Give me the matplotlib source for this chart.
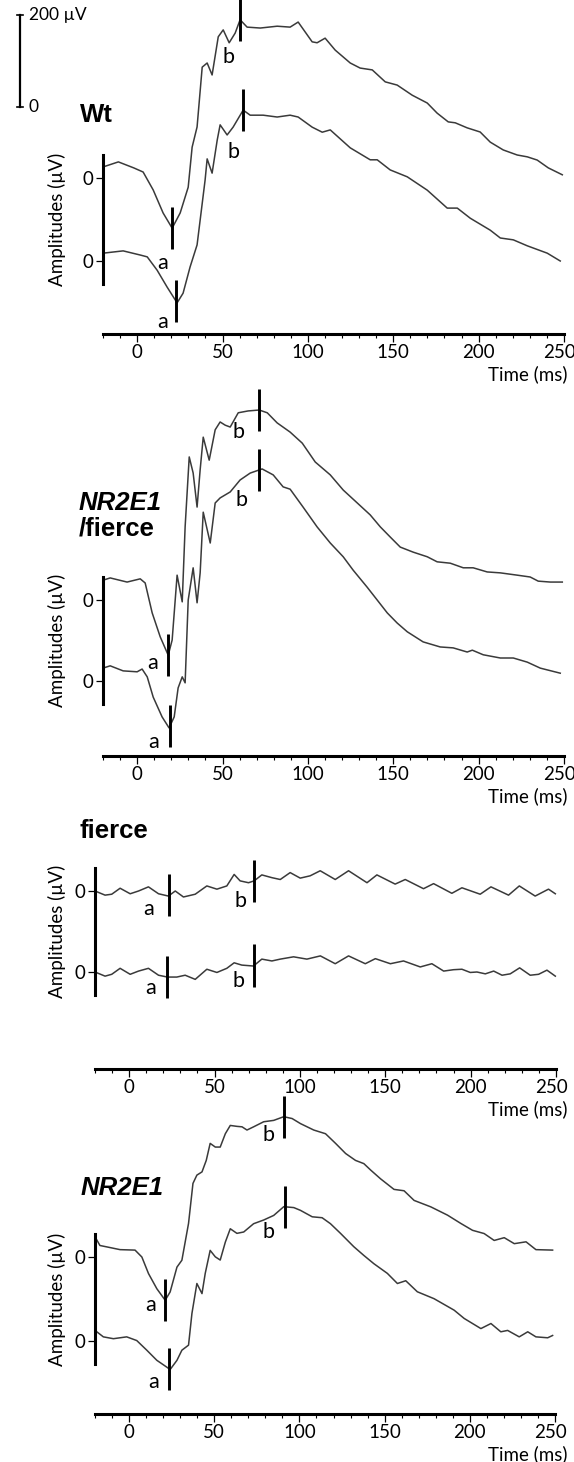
import numpy as np
import matplotlib.pyplot as plt
from matplotlib.ticker import MultipleLocator
from matplotlib.transforms import ScaledTranslation

# ERG traces, time in ms, amplitude in uV relative to each trace's own zero
# Wt
wt_up_t = [-20, -11, -2, 3.5, 9.4, 15.2, 20.5, 25.2, 29.9, 32.2, 35.1, 38.1, 41, 43.9, 47.5,
           50.4, 53.9, 57.4, 60.3, 64.4, 72.1, 82, 89.6, 94.3, 102.5, 105.4, 110.1, 116, 124.8, 130.6,
           137.7, 145.3, 152.3, 161.1, 169.9, 175.7, 182.2, 186.3, 193.3, 200.9, 206.8, 214.4, 222.6,
           228.5, 234.3, 240.8, 249]
wt_up_v = [24, 35, 22, 13, -26, -76, -109, -76, -20, 67, 111, 241, 250, 224, 307,
           322, 294, 315, 344, 328, 326, 330, 328, 339, 296, 294, 304, 278, 250, 239,
           235, 209, 202, 180, 163, 141, 122, 120, 109, 100, 78, 61, 50,
           46, 39, 22, 7]
wt_lo_t = [-20, -8.2, 1.8, 5.9, 11.7, 17.6, 23.4, 26.9, 31, 35.1, 36.9, 39.8, 41, 43.9, 46.9,
           48.6, 52.7, 56.2, 62.1, 66.2, 73.8, 82, 89.6, 94.3, 102.5, 108.4, 113.1, 124.8, 136.5,
           140.6, 148.2, 158.2, 169.9, 181.6, 187.5, 195.1, 206.8, 212.7, 220.3, 228.5, 240.2, 247.8]
wt_lo_v = [17, 22, 13, 9, -20, -57, -91, -70, -13, 35, 89, 176, 222, 191, 263,
           296, 274, 291, 328, 317, 317, 313, 317, 313, 291, 280, 285, 246, 220,
           220, 198, 183, 154, 115, 115, 93, 67, 50, 46, 33, 17, 0]

# NR2E1/fierce
nf_up_t = [-20, -15.8, -5.9, 1.8, 4.7, 8.8, 13.5, 18.2, 20.5, 23.4, 26.4, 28.1, 30.5, 32.8, 35.1,
           36.9, 38.7, 42.2, 45.7, 48.6, 51.6, 54.5, 59.2, 65, 71.5, 76.2, 82, 89.6, 96.7, 104.3,
           113.1, 120.7, 128.9, 136.5, 142.4, 148.2, 154.1, 161.7, 169.9, 175.7, 183.4, 191, 196.8,
           205, 212.7, 222.6, 230.2, 234.9, 242, 249]
nf_up_v = [43, 48, 39, 46, 37, -28, -80, -120, -87, 54, -4, 159, 311, 276, 202,
           283, 354, 304, 370, 387, 380, 376, 407, 411, 413, 407, 385, 365, 341, 300,
           272, 239, 211, 185, 159, 137, 115, 104, 94, 83, 80, 70, 70,
           61, 59, 54, 50, 41, 39, 39]
nf_lo_t = [-20, -15.8, -8.2, 0, 2.9, 5.9, 9.4, 14.6, 18.7, 21.7, 24, 26.4, 28.1, 29.9, 32.8,
           35.1, 36.9, 38.7, 42.8, 45.7, 48.6, 54.5, 60.3, 66.2, 73.2, 79.7, 85.5, 89.6, 97.2, 105.4,
           113.1, 120.7, 126.5, 134.7, 140.6, 146.5, 152.3, 158.2, 167.5, 177.5, 185.1, 193.3, 196.3,
           202.7, 212.7, 220.3, 228.5, 236.1, 247.8]
nf_lo_v = [28, 33, 22, 20, 26, 9, -35, -78, -102, -78, -15, 9, -4, 176, 246,
           170, 235, 367, 300, 387, 398, 411, 437, 452, 461, 448, 422, 417, 378, 335,
           300, 270, 241, 204, 176, 148, 126, 107, 85, 74, 72, 63, 67,
           57, 50, 50, 41, 28, 17]

# fierce
fi_up_t = [-20, -14.1, -10.2, -5.3, 0.6, 5.5, 11.3, 17.2, 23, 27, 31.8, 38.7, 45.5, 51.4, 57.2,
           61.5, 65, 69.9, 73.2, 77.7, 83.6, 88.5, 94.3, 100.2, 106, 111.9, 120.7, 128.5, 139.3,
           145.1, 155.8, 161.7, 172.4, 178.3, 189, 194.9, 205.6, 211.9, 222.2, 228.5, 237.8, 245.6,
           249.6]
fi_up_v = [0, -9, -7, 6, -6, 0, 9, -6, -11, 0, -13, -7, 11, 4, 11,
           36, 22, 18, 22, 35, 29, 25, 40, 28, 33, 44, 25, 44, 18,
           35, 15, 25, 5, 16, -5, 7, -7, 9, -9, 11, -11, 4,
           -6]
fi_lo_t = [-20, -14.1, -10.2, -5.3, 0.6, 5.5, 11.3, 17.2, 22.4, 27.9, 32.8, 38.7, 45.5, 51.4, 57.2,
           61.5, 66, 72.8, 77.7, 83.6, 88.5, 96.3, 104.1, 112, 120.7, 128.5, 138.3, 144.2, 153,
           160.7, 170.5, 177.3, 184.2, 190, 194.9, 199.8, 203.7, 208.6, 213.5, 218.4, 223.2, 228.7,
           234.9, 239.8, 244.7, 249.6]
fi_lo_v = [0, -9, -5, 8, -5, 2, 8, -7, -11, -11, -7, -16, 6, -1, 8,
           20, 15, 13, 28, 24, 28, 33, 28, 35, 18, 35, 18, 29, 18,
           24, 11, 18, 2, 5, 6, -1, 0, -4, 2, -7, -4, 9,
           -7, -5, 4, -9]

# NR2E1
nr_up_t = [-20, -17.1, -13.1, -5.3, 3.5, 7.5, 11.4, 16.3, 21.2, 24.1, 28.1, 31, 34.9, 37.5, 39.8,
           42.8, 45.3, 47.6, 50.6, 53.5, 56.5, 59.4, 63.3, 66.3, 69.2, 73.1, 79, 84.9, 90.8, 95.7,
           100.6, 108.4, 115.3, 121.2, 127.1, 132.9, 137.8, 141.8, 147.6, 155.5, 161.4, 167.3, 177.1,
           186.9, 194.7, 201.6, 208.4, 214.3, 220.2, 226.1, 233, 238.8, 248.6]
nr_up_v = [44, 25, 22, 16, 15, 0, -36, -69, -94, -76, -22, -7, 73, 160, 178,
           185, 210, 247, 239, 239, 268, 286, 284, 283, 276, 283, 294, 297, 305, 301,
           290, 276, 268, 247, 225, 210, 203, 189, 170, 147, 144, 123, 109,
           91, 73, 58, 51, 36, 42, 29, 33, 16, 15]
nr_lo_t = [-20, -15.1, -9.2, -1.4, 4.5, 10.4, 16.3, 22.2, 24.1, 28.1, 31, 34.9, 36.9, 39.8, 42.8,
           44.7, 47.6, 50.6, 53.5, 56.5, 59.4, 63.3, 67.3, 73.1, 79, 84.9, 90.8, 96.7, 100.6, 107.5,
           113.3, 118.2, 124.1, 131.9, 137.8, 143.7, 151.6, 157.5, 162.4, 169.2, 179, 190.8, 196.7,
           206.5, 212.4, 218.2, 222.2, 229, 234, 238.8, 245.7, 248.6]
nr_lo_v = [23, 9, 5, 9, 1, -20, -42, -57, -62, -42, -20, -9, 60, 125, 103,
           147, 197, 183, 176, 215, 244, 234, 237, 255, 263, 273, 292, 290, 284, 270,
           268, 255, 234, 205, 186, 168, 147, 125, 131, 107, 92, 67, 49,
           27, 38, 20, 23, 9, 20, 9, 7, 12]

# a- and b-wave marker times (ms): upper a, upper b, lower a, lower b
wt_marks = [20.5, 60.3, 22.8, 62.1]
nf_marks = [18.2, 71.5, 19.3, 71.5]
fi_marks = [23.6, 73.2, 22.4, 73.2]
nr_marks = [21.2, 91.2, 23.5, 91.8]

x_ticks = [0, 50, 100, 150, 200, 250]

W, H = 574, 1462
UV_PX = 92 / 200  # pixels per uV, from the 200 uV scale bar
TRACE = "#3a3a3a"

plt.rcParams["font.family"] = ["Lato", "DejaVu Sans"]
fig = plt.figure(figsize=(W / 100, H / 100), dpi=100)

# x of -20 ms, x of 250 ms, top, upper zero, lower zero, x-axis line  (pixels)
layout = [
    (103, 564, 0, 178, 261, 334),
    (103, 564, 385, 600, 681, 756),
    (95, 556, 800, 891, 972, 1069),
    (95, 555, 1090, 1257, 1341, 1414),
]

# "a"/"b" label positions (ms, uV above the lower trace's zero)
label_pos = [
    [(15.2, -4), (53.3, 443), (15.2, -133), (56.2, 237)],
    [(8.8, 39), (59.2, 541), (9.4, -133), (60.9, 394)],
    [(11.3, 136), (65, 154), (12.3, -34), (64, -20)],
    [(12.4, 78), (82, 447), (14.3, -89), (82, 237)],
]


def draw_panel(lay, up, lo, marks, labels):
    x0, x1, top, z_up, z_lo, axis_y = lay
    ax = fig.add_axes([x0 / W, 1 - axis_y / H, (x1 - x0) / W, (axis_y - top) / H])
    ax.patch.set_visible(False)
    ax.set_xlim(-20, 250)
    ax.set_ylim(-(axis_y - z_lo) / UV_PX, (z_lo - top) / UV_PX)
    off = (z_lo - z_up) / UV_PX

    for (tt, vv), base, (ta, tb) in [(up, off, marks[:2]), (lo, 0, marks[2:])]:
        ax.plot(tt, np.array(vv) + base, color=TRACE, lw=1.1, clip_on=False)
        for tm in (ta, tb):
            vm = np.interp(tm, tt, vv) + base
            ax.plot([tm, tm], [vm - 46, vm + 46], color="k", lw=2.1,
                    solid_capstyle="butt", clip_on=False)
    for (tx, ty), s in zip(labels, "abab"):
        ax.text(tx, ty, s, ha="center", va="center", fontsize=15.5)

    for s in ("top", "right"):
        ax.spines[s].set_visible(False)
    ax.spines["bottom"].set_linewidth(2.2)
    ax.spines["left"].set_linewidth(2.2)
    ax.spines["left"].set_bounds(-50, off + 50)
    ax.set_xticks(x_ticks)
    ax.xaxis.set_minor_locator(MultipleLocator(10))
    ax.tick_params(axis="x", which="major", length=5.5, width=0.9, labelsize=13.5, pad=1.5)
    ax.tick_params(axis="x", which="minor", length=3.2, width=0.8)
    ax.set_yticks([0, off])
    ax.set_yticklabels(["0", "0"])
    ax.tick_params(axis="y", length=5, width=0.9, labelsize=13.5, pad=2)
    # keep the last tick label inside the figure
    last = ax.get_xticklabels()[-1]
    last.set_transform(last.get_transform() + ScaledTranslation(-5 / 100, 0, fig.dpi_scale_trans))

    fig.text(567 / W, 1 - (axis_y + 40) / H, "Time (ms)", ha="right", va="center",
             fontsize=13.5)
    mid = (z_up + z_lo) / 2
    fig.text(57 / W, 1 - mid / H, "Amplitudes (µV)", rotation=90, ha="center",
             va="center", fontsize=13.5)
    return ax


traces = [
    ((wt_up_t, wt_up_v), (wt_lo_t, wt_lo_v), wt_marks),
    ((nf_up_t, nf_up_v), (nf_lo_t, nf_lo_v), nf_marks),
    ((fi_up_t, fi_up_v), (fi_lo_t, fi_lo_v), fi_marks),
    ((nr_up_t, nr_up_v), (nr_lo_t, nr_lo_v), nr_marks),
]
axes = [draw_panel(lay, up, lo, mk, lb)
        for lay, (up, lo, mk), lb in zip(layout, traces, label_pos)]

# 200 uV scale bar next to the Wt panel
ax0 = axes[0]
x0, x1, _, _, z_lo, _ = layout[0]
t_bar = -20 + (20 - x0) / (x1 - x0) * 270
v_bar = (z_lo - 107) / UV_PX
ax0.plot([t_bar, t_bar], [v_bar, v_bar + 200], color="k", lw=1.6, clip_on=False)
for v in (v_bar, v_bar + 200):
    ax0.plot([t_bar - 2, t_bar + 2], [v, v], color="k", lw=1.2, clip_on=False)
ax0.text(t_bar + 5, v_bar + 200, "200 µV", ha="left", va="center", fontsize=12.5)
ax0.text(t_bar + 5, v_bar, "0", ha="left", va="center", fontsize=12.5)

bold = dict(family=["Liberation Sans", "DejaVu Sans"], fontweight="bold", fontsize=18.5,
            ha="left", va="center")
fig.text(80 / W, 1 - 115 / H, "Wt", **bold)
fig.text(79 / W, 1 - 503 / H, "NR2E1", style="italic", **bold)
fig.text(79 / W, 1 - 528 / H, "/fierce", **bold)
fig.text(80 / W, 1 - 831 / H, "fierce", **bold)
fig.text(81 / W, 1 - 1188 / H, "NR2E1", style="italic", **bold)

fig.savefig("out.png", dpi=100)
